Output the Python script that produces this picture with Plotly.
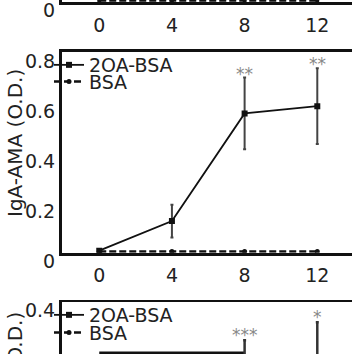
import plotly.graph_objects as go

# ---------------- data ----------------
weeks = [0, 4, 8, 12]
week_ticks = ["0", "4", "8", "12"]

# top panel (only its baseline is visible)
bsa_top = [0.001, 0.001, 0.001, 0.001]

# middle panel (IgA-AMA)
oa_mid = [0.008, 0.126, 0.555, 0.584]
oa_mid_err = [0.0, 0.065, 0.143, 0.151]
bsa_mid = [0.005, 0.005, 0.005, 0.005]
sig_mid = ["", "", "**", "**"]

# bottom panel (only its top is visible)
oa_bot = [0.01, 0.08, 0.21, 0.23]
oa_bot_err = [0.0, 0.04, 0.113, 0.129]
bsa_bot = [0.005, 0.005, 0.005, 0.005]
sig_bot = ["", "", "***", "*"]
bracket_weeks = [0, 8]
bracket_level = [0.298, 0.298]

top_yticks = [0]
top_yticktext = ["0"]
mid_yticks = [0, 0.2, 0.4, 0.6, 0.8]
mid_yticktext = ["0", "0.2", "0.4", "0.6", "0.8"]
bot_yticks = [0.3, 0.4]
bot_yticktext = ["0.3", "0.4"]

series_names = ["2OA-BSA", "BSA"]
ytitle_mid = "IgA-AMA (O.D.)"
ytitle_bot = "IgM-AMA (O.D.)"

# ---------------- layout helpers ----------------
W, H = 352, 354
ML = 62
PW = W - ML
FONT = "DejaVu Sans"
TXT = "#222222"


def py(px):
    return 1 - px / H


def px_x(px):
    return (px - ML) / PW


xr = [-2.05, 13.91]

fig = go.Figure()

# top panel trace (sits on the baseline)
fig.add_trace(go.Scatter(
    x=weeks, y=bsa_top, mode="lines+markers", showlegend=False,
    line=dict(color="#111111", width=2, dash="7px,3px"),
    marker=dict(symbol="circle", size=4, color="#111111"),
    xaxis="x", yaxis="y", hoverinfo="skip"))

# middle panel traces
fig.add_trace(go.Scatter(
    x=weeks, y=bsa_mid, name=series_names[1], mode="lines+markers",
    line=dict(color="#111111", width=2.5, dash="7px,3px"),
    marker=dict(symbol="circle", size=5, color="#111111"),
    xaxis="x2", yaxis="y2", legend="legend2"))
fig.add_trace(go.Scatter(
    x=weeks, y=oa_mid, name=series_names[0], mode="lines+markers",
    line=dict(color="#111111", width=1.8),
    marker=dict(symbol="square", size=6, color="#111111"),
    error_y=dict(type="data", array=oa_mid_err, visible=True,
                 color="#444444", thickness=2, width=1.5),
    xaxis="x2", yaxis="y2", legend="legend"))

# bottom panel traces
fig.add_trace(go.Scatter(
    x=bracket_weeks, y=bracket_level, mode="lines", showlegend=False,
    line=dict(color="#111111", width=3), xaxis="x3", yaxis="y3",
    hoverinfo="skip"))
fig.add_trace(go.Scatter(
    x=weeks, y=bsa_bot, name=series_names[1], mode="lines+markers",
    line=dict(color="#111111", width=2.5, dash="7px,3px"),
    marker=dict(symbol="circle", size=5, color="#111111"),
    xaxis="x3", yaxis="y3", legend="legend4"))
fig.add_trace(go.Scatter(
    x=weeks, y=oa_bot, name=series_names[0], mode="lines+markers",
    line=dict(color="#111111", width=1.8),
    marker=dict(symbol="square", size=6, color="#111111"),
    error_y=dict(type="data", array=oa_bot_err, visible=True,
                 color="#333333", thickness=2.5, width=1.5),
    xaxis="x3", yaxis="y3", legend="legend3"))

annotations = []
for w, m, e, s in zip(weeks, oa_mid, oa_mid_err, sig_mid):
    if s:
        annotations.append(dict(x=w, y=m + e, xref="x2", yref="y2", text=s,
                                showarrow=False, yanchor="middle", yshift=4,
                                font=dict(family=FONT, size=17, color="#888888")))
for w, m, e, s in zip(weeks, oa_bot, oa_bot_err, sig_bot):
    if s:
        annotations.append(dict(x=w, y=m + e, xref="x3", yref="y3", text=s,
                                showarrow=False, yanchor="middle", yshift=5,
                                font=dict(family=FONT, size=17, color="#888888")))
annotations.append(dict(x=px_x(15), y=py(143), xref="paper", yref="paper",
                        xanchor="center", yanchor="middle",
                        text=ytitle_mid, textangle=-90, showarrow=False,
                        font=dict(family=FONT, size=20, color=TXT)))
annotations.append(dict(x=px_x(15), y=py(388), xref="paper", yref="paper",
                        xanchor="center", yanchor="middle",
                        text=ytitle_bot, textangle=-90, showarrow=False,
                        font=dict(family=FONT, size=20, color=TXT)))

axfont = dict(family=FONT, size=19, color=TXT)
common_x = dict(range=xr, tickvals=weeks, ticktext=week_ticks, ticks="",
                showgrid=False, zeroline=False, showline=True,
                linecolor="#111111", linewidth=2.5, tickfont=axfont,
                ticklabelstandoff=4, fixedrange=True, automargin=False)
common_y = dict(ticks="", showgrid=False, zeroline=False, showline=True,
                linecolor="#111111", linewidth=3, tickfont=axfont,
                ticklabelshift=9, automargin=False, fixedrange=True)


def legend(ypx):
    return dict(x=px_x(49), y=py(ypx), xanchor="left", yanchor="middle",
                bgcolor="rgba(0,0,0,0)", borderwidth=0, itemwidth=30,
                font=dict(family=FONT, size=19, color=TXT),
                tracegroupgap=0)


fig.update_layout(
    width=W, height=H,
    margin=dict(l=ML, r=0, t=0, b=0, autoexpand=False),
    paper_bgcolor="white", plot_bgcolor="white",
    showlegend=True,
    xaxis=dict(common_x, domain=[0, 1], anchor="y"),
    yaxis=dict(common_y, domain=[py(2), 1], range=[-0.004, 0.004],
               tickvals=top_yticks, ticktext=top_yticktext, anchor="x",
               ticklabeloverflow="allow"),
    xaxis2=dict(common_x, domain=[0, 1], anchor="y2", mirror=True),
    yaxis2=dict(common_y, domain=[py(252.7), py(52)], range=[0, 0.8],
                tickvals=mid_yticks, ticktext=mid_yticktext, anchor="x2"),
    xaxis3=dict(common_x, domain=[0, 1], anchor="y3", side="top",
                showticklabels=False, linewidth=1.8),
    yaxis3=dict(common_y, domain=[0, py(301.7)], range=[0.2958, 0.4],
                tickvals=bot_yticks, ticktext=bot_yticktext, anchor="x3",
                ticklabeloverflow="allow"),
    legend=legend(65),
    legend2=legend(81.7),
    legend3=legend(315),
    legend4=legend(332.7),
    annotations=annotations,
)

fig.write_html("out.html")
